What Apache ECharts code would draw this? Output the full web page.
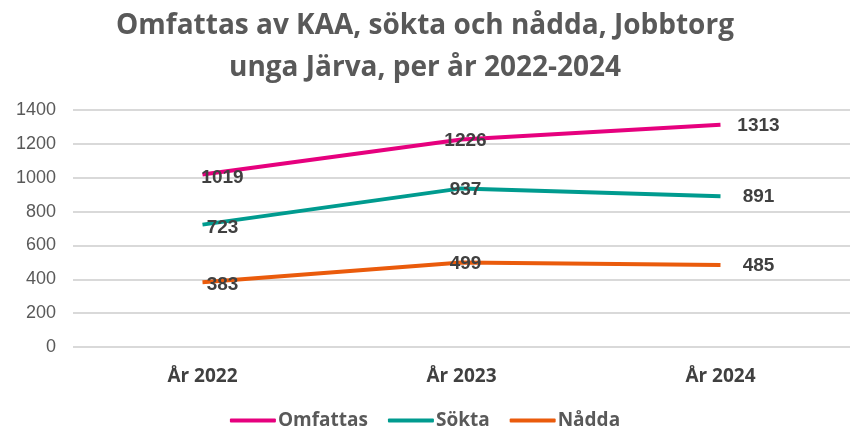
<!DOCTYPE html>
<html>
<head>
<meta charset="utf-8">
<script src="https://cdn.jsdelivr.net/npm/echarts@6/dist/echarts.min.js"></script>
<style>
  html, body { margin: 0; padding: 0; background: #fff; }
  #chart { width: 850px; height: 432px; }
</style>
</head>
<body>
<div id="chart"></div>
<script>
// data
const years = ['År 2022', 'År 2023', 'År 2024'];
const omfattas = [1019, 1226, 1313];
const sokta = [723, 937, 891];
const nadda = [383, 499, 485];

// label offsets per year (x, y) - the labels sit a bit to the side like in Excel
const labelOffsets = [[20, 3], [4, 1], [38, 1]];

const headFont = '"Open Sans", Lato, sans-serif';

const chart = echarts.init(document.getElementById('chart'));

function mkSeries(name, values, color) {
    return {
        name: name,
        type: 'line',
        data: values.map((v, i) => ({
            value: v,
            label: { offset: labelOffsets[i] }
        })),
        symbol: 'circle',
        symbolSize: 0.1,
        showSymbol: true,
        lineStyle: { color: color, width: 4 },
        itemStyle: { color: color },
        label: {
            show: true,
            position: 'inside',
            color: '#404040',
            fontFamily: '"Liberation Sans", Arial, sans-serif',
            fontWeight: 'bold',
            fontSize: 19
        },
        emphasis: { disabled: true }
    };
}

chart.setOption({
    animation: false,
    backgroundColor: '#fff',
    title: {
        text: 'Omfattas av KAA, sökta och nådda, Jobbtorg\nunga Järva, per år 2022-2024',
        left: 'center',
        top: 0,
        textStyle: {
            fontFamily: headFont,
            fontWeight: 'bold',
            fontSize: 28,
            lineHeight: 42,
            color: '#595959'
        }
    },
    legend: {
        top: 406,
        left: 'center',
        itemWidth: 46,
        itemHeight: 4,
        itemGap: 20,
        icon: 'roundRect',
        textStyle: {
            fontFamily: headFont,
            fontWeight: 'bold',
            fontSize: 19,
            color: '#595959',
            padding: [0, 0, 0, -3]
        },
        data: ['Omfattas', 'Sökta', 'Nådda']
    },
    grid: {
        left: 73,
        top: 110,
        width: 779,
        bottom: 85,
        containLabel: false
    },
    xAxis: {
        type: 'category',
        data: years,
        boundaryGap: true,
        axisLine: { show: false },
        axisTick: { show: false },
        axisLabel: {
            margin: 20,
            fontFamily: headFont,
            fontWeight: 'bold',
            fontSize: 19,
            color: '#404040'
        }
    },
    yAxis: {
        type: 'value',
        min: 0,
        max: 1400,
        interval: 200,
        axisLine: { show: false },
        axisTick: { show: false },
        axisLabel: {
            margin: 17,
            fontFamily: '"Liberation Sans", Arial, sans-serif',
            fontSize: 18,
            color: '#595959',
            formatter: (v) => String(v)
        },
        splitLine: { lineStyle: { color: '#d9d9d9', width: 2 } }
    },
    series: [
        mkSeries('Omfattas', omfattas, '#e6007e'),
        mkSeries('Sökta', sokta, '#009b8f'),
        mkSeries('Nådda', nadda, '#ea5b0c')
    ]
});
</script>
</body>
</html>
